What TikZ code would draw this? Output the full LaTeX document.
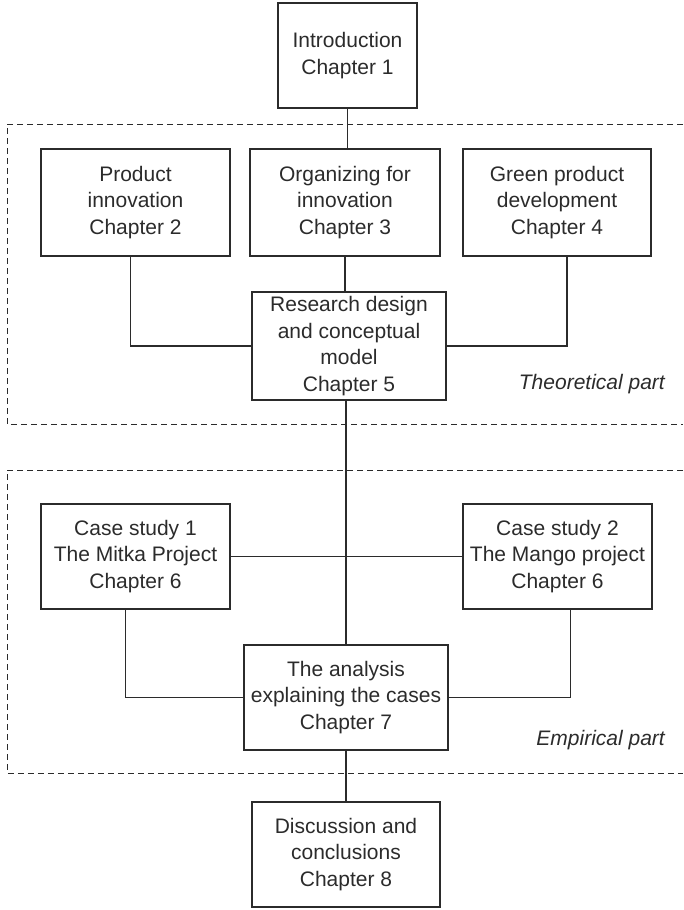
\documentclass[tikz,border=0pt]{standalone}
\usepackage{fontspec}
\setmainfont{Liberation Sans}
\definecolor{ink}{HTML}{2B2B2B}
\begin{document}
\begin{tikzpicture}[x=1pt,y=-1pt,
  chapbox/.style={draw=ink, line width=1.3pt, rectangle, align=center,
    inner sep=0pt, text=ink,
    font=\fontsize{21}{26.5}\selectfont},
  link/.style={draw=ink, line width=1.3pt},
  partframe/.style={draw=ink, line width=1pt, dash pattern=on 6pt off 4pt},
  partlabel/.style={anchor=east, text=ink, inner sep=0pt,
    font=\fontsize{21}{26.5}\selectfont\itshape}]
\useasboundingbox (0,0) rectangle (683,910);

% frames around the two parts, open towards the right edge
\draw[partframe] (683,124) -- (7,124) -- (7,424) -- (683,424);
\draw[partframe] (683,470) -- (7,470) -- (7,773) -- (683,773);

% chapter boxes
\node[chapbox, minimum width=139pt, minimum height=105pt] (intro) at (347.5,55.5) {Introduction\\Chapter 1};
\node[chapbox, minimum width=189pt, minimum height=107pt] (prod) at (135.5,202.5) {Product\\innovation\\Chapter 2};
\node[chapbox, minimum width=190pt, minimum height=107pt] (org) at (345,202.5) {Organizing for\\innovation\\Chapter 3};
\node[chapbox, minimum width=188pt, minimum height=107pt] (green) at (557,202.5) {Green product\\development\\Chapter 4};
\node[chapbox, minimum width=194pt, minimum height=108pt] (res) at (349,346) {Research design\\and conceptual\\model\\Chapter 5};
\node[chapbox, minimum width=189pt, minimum height=105pt] (case1) at (135.5,556.5) {Case study 1\\The Mitka Project\\Chapter 6};
\node[chapbox, minimum width=189pt, minimum height=105pt] (case2) at (557.5,556.5) {Case study 2\\The Mango project\\Chapter 6};
\node[chapbox, minimum width=204pt, minimum height=105pt] (ana) at (346,697.5) {The analysis\\explaining the cases\\Chapter 7};
\node[chapbox, minimum width=188pt, minimum height=105pt] (disc) at (346,854.5) {Discussion and\\conclusions\\Chapter 8};

% part labels
\node[partlabel] (theo) at (665,384) {Theoretical part};
\node[partlabel] (emp) at (665,740) {Empirical part};

% connectors
\draw[link] (intro.south) -- (intro.south |- org.north);
\draw[link] (org.south) -- (org.south |- res.north);
\draw[link] ([xshift=-5pt]prod.south) |- (res.west);
\draw[link] ([xshift=10pt]green.south) |- (res.east);
\draw[link] (ana.north -| 346,0) -- (346,400);
\draw[link] (case1.east) -- (case2.west);
\draw[link] ([xshift=-10pt]case1.south) |- (ana.west);
\draw[link] ([xshift=13pt]case2.south) |- (ana.east);
\draw[link] (ana.south) -- (disc.north);
\end{tikzpicture}
\end{document}
